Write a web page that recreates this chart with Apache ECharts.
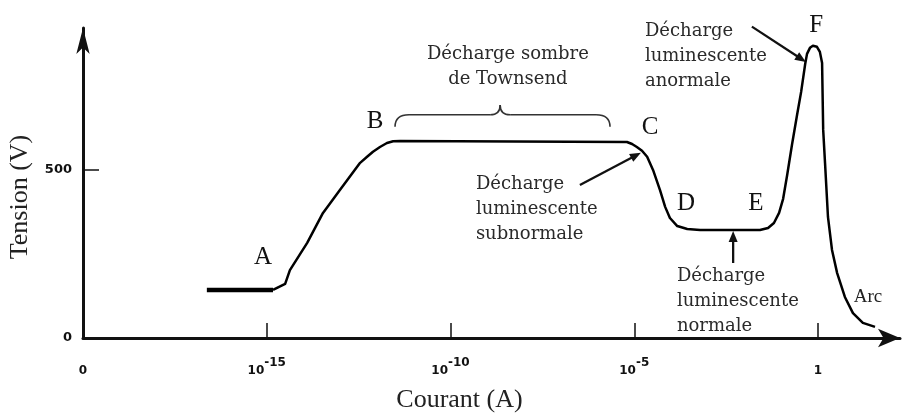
<!DOCTYPE html>
<html><head><meta charset="utf-8">
<script src="https://cdn.jsdelivr.net/npm/echarts@6/dist/echarts.min.js"></script>
<style>html,body{margin:0;padding:0;background:#fff}#c{width:902px;height:415px}</style>
</head><body><div id="c"></div>
<script>
// ---- data (x = log10 of current in A, y = voltage in V) ----
const xTickValues = [-20, -15, -10, -5, 0];
const xTickLabels = ['0', '10^-15', '10^-10', '10^-5', '1'];
const yTickValues = [0, 500];

// thick initial segment
const startLogI = [-16.63, -14.83];
const startV    = [143, 143];

// main characteristic A -> B -> C -> D -> E -> F -> arc
const logI = [-14.83, -14.50, -14.37, -13.90, -13.47, -13.01, -12.46, -12.27, -12.11, -11.92,
              -11.73, -11.56, -11.37, -5.20, -5.06, -4.93, -4.79, -4.65, -4.49, -4.30,
              -4.16, -4.03, -3.83, -3.56, -3.21, -1.58, -1.36, -1.20, -1.06, -0.95,
              -0.84, -0.71, -0.57, -0.46, -0.35, -0.30, -0.22, -0.14, -0.03, 0.05,
              0.11, 0.14, 0.19, 0.27, 0.38, 0.52, 0.73, 0.95, 1.22, 1.55];
const volts = [143, 161, 202, 283, 372, 440, 521, 539, 554, 568,
               580, 585, 586, 583, 577, 568, 557, 539, 500, 440,
               390, 357, 333, 324, 321, 321, 327, 342, 372, 414,
               485, 574, 664, 732, 815, 845, 863, 869, 866, 851,
               818, 619, 521, 360, 262, 193, 122, 74, 45, 33];

// point labels
const letterText = ['A', 'B', 'C', 'D', 'E', 'F'];
const letterLogI = [-15.10, -12.05, -4.57, -3.59, -1.69, -0.05];
const letterV    = [241, 643, 625, 399, 399, 931];

// annotation blocks
const noteText = ['Décharge sombre\nde Townsend',
                  'Décharge\nluminescente\nsubnormale',
                  'Décharge\nluminescente\nnormale',
                  'Décharge\nluminescente\nanormale'];
const noteLogI = [-8.44, -9.31, -3.84, -4.71];
const noteV    = [882, 493, 220, 948];
const noteAlign = ['center', 'left', 'left', 'left'];

// arrows: tail -> tip
const arrowFromLogI = [-6.48, -2.31, -1.80];
const arrowFromV    = [455, 223, 926];
const arrowToLogI   = [-4.82, -2.31, -0.33];
const arrowToV      = [551, 318, 821];

// brace over the Townsend plateau
const braceLogI = [-11.51, -8.65, -5.66];
const braceV    = [628, 664, 693];

const zip = (a, b) => a.map((v, i) => [v, b[i]]);

const serif = "'Liberation Serif', 'Times New Roman', serif";
const dserif = "'DejaVu Serif', serif";
const sans = "'DejaVu Sans', sans-serif";

const chart = echarts.init(document.getElementById('c'));

chart.setOption({
  animation: false,
  grid: { left: 83, right: 2, top: 28, bottom: 77, outerBoundsMode: 'none', containLabel: false },
  xAxis: {
    type: 'value', min: -20, max: 2.23, interval: 5,
    name: 'Courant (A)', nameLocation: 'middle', nameGap: 49,
    nameTextStyle: { fontFamily: serif, fontSize: 26, color: '#222', padding: [0, 64, 0, 0] },
    axisLine: { onZero: false, lineStyle: { color: '#111', width: 3 }, symbol: ['none', 'arrow'], symbolSize: [14, 22] },
    axisTick: { inside: true, length: 15, lineStyle: { color: '#111', width: 1.5 }, customValues: xTickValues.slice(1) },
    axisLabel: {
      margin: 19, customValues: xTickValues,
      formatter: v => {
        const t = xTickLabels[xTickValues.indexOf(v)];
        if (t === undefined) return '';
        if (t.indexOf('^') >= 0) { const p = t.split('^'); return '{b|' + p[0] + '}{s|' + p[1] + '}'; }
        return '{b|' + t + '}';
      },
      rich: {
        b: { fontFamily: sans, fontWeight: 'bold', fontSize: 12, color: '#111', lineHeight: 20, verticalAlign: 'bottom' },
        s: { fontFamily: sans, fontWeight: 'bold', fontSize: 12, color: '#111', lineHeight: 12, verticalAlign: 'top' }
      }
    },
    splitLine: { show: false }
  },
  yAxis: {
    type: 'value', min: 0, max: 922, interval: 500,
    name: 'Tension (V)', nameLocation: 'middle', nameGap: 50, nameRotate: 90,
    nameTextStyle: { fontFamily: serif, fontSize: 26, color: '#222', padding: [0, 28, 0, 0] },
    axisLine: { onZero: false, lineStyle: { color: '#111', width: 3 }, symbol: ['none', 'arrow'], symbolSize: [10, 26] },
    axisTick: { inside: true, length: 16, lineStyle: { color: '#111', width: 1.5 }, customValues: [500] },
    axisLabel: { margin: 11, customValues: yTickValues, fontFamily: sans, fontWeight: 'bold', fontSize: 13, color: '#111' },
    splitLine: { show: false }
  },
  series: [
    { type: 'line', data: zip(startLogI, startV), symbol: 'none', lineStyle: { color: '#000', width: 4.5 }, silent: true },
    { type: 'line', data: zip(logI, volts), symbol: 'none', smooth: false,
      lineStyle: { color: '#000', width: 2.5, join: 'round' }, silent: true }
  ]
});

const px = p => chart.convertToPixel({ gridIndex: 0 }, p);
const graphics = [];
const centered = { align: 'center', verticalAlign: 'middle', textAlign: 'center', textVerticalAlign: 'middle' };
letterText.forEach((t, i) => {
  const [x, y] = px([letterLogI[i], letterV[i]]);
  graphics.push({ type: 'text', x, y, silent: true,
    style: Object.assign({ text: t, font: '25px ' + serif, fill: '#111' }, centered) });
});
{
  const [x, y] = px([1.36, 122]);
  graphics.push({ type: 'text', x, y, silent: true,
    style: Object.assign({ text: 'Arc', font: '19px ' + serif, fill: '#222' }, centered) });
}
noteText.forEach((t, i) => {
  const [x, y] = px([noteLogI[i], noteV[i]]);
  graphics.push({ type: 'text', x, y, silent: true,
    style: { text: t, font: '18px ' + dserif, lineHeight: 25, fill: '#2a2a2a', align: noteAlign[i], textAlign: noteAlign[i], verticalAlign: 'top', textVerticalAlign: 'top' } });
});
// arrows
arrowFromLogI.forEach((lx, i) => {
  const [x1, y1] = px([lx, arrowFromV[i]]);
  const [x2, y2] = px([arrowToLogI[i], arrowToV[i]]);
  const dx = x2 - x1, dy = y2 - y1, L = Math.hypot(dx, dy);
  const ux = dx / L, uy = dy / L, hl = 11, hw = 4.5;
  const bx = x2 - ux * hl, by = y2 - uy * hl;
  graphics.push({ type: 'line', silent: true, shape: { x1, y1, x2: bx + ux * 2, y2: by + uy * 2 }, style: { stroke: '#111', lineWidth: 2.3 } });
  graphics.push({ type: 'polygon', silent: true,
    shape: { points: [[x2, y2], [bx - uy * hw, by + ux * hw], [bx + uy * hw, by - ux * hw]] },
    style: { fill: '#111' } });
});
// brace
{
  const [xL, yb] = px([braceLogI[0], braceV[0]]);
  const [xm, ym] = px([braceLogI[1], braceV[1]]);
  const [xR, yt] = px([braceLogI[2], braceV[2]]);
  const st = { stroke: '#333', lineWidth: 1.6, fill: null };
  graphics.push({ type: 'bezierCurve', silent: true, shape: { x1: xL, y1: yb, cpx1: xL, cpy1: ym, x2: xL + 14, y2: ym }, style: st });
  graphics.push({ type: 'line', silent: true, shape: { x1: xL + 14, y1: ym, x2: xm - 10, y2: ym }, style: st });
  graphics.push({ type: 'bezierCurve', silent: true, shape: { x1: xm - 10, y1: ym, cpx1: xm, cpy1: ym, x2: xm, y2: yt }, style: st });
  graphics.push({ type: 'bezierCurve', silent: true, shape: { x1: xm, y1: yt, cpx1: xm, cpy1: ym, x2: xm + 10, y2: ym }, style: st });
  graphics.push({ type: 'line', silent: true, shape: { x1: xm + 10, y1: ym, x2: xR - 14, y2: ym }, style: st });
  graphics.push({ type: 'bezierCurve', silent: true, shape: { x1: xR - 14, y1: ym, cpx1: xR, cpy1: ym, x2: xR, y2: yb }, style: st });
}
chart.setOption({ graphic: graphics });
</script>
</body></html>
